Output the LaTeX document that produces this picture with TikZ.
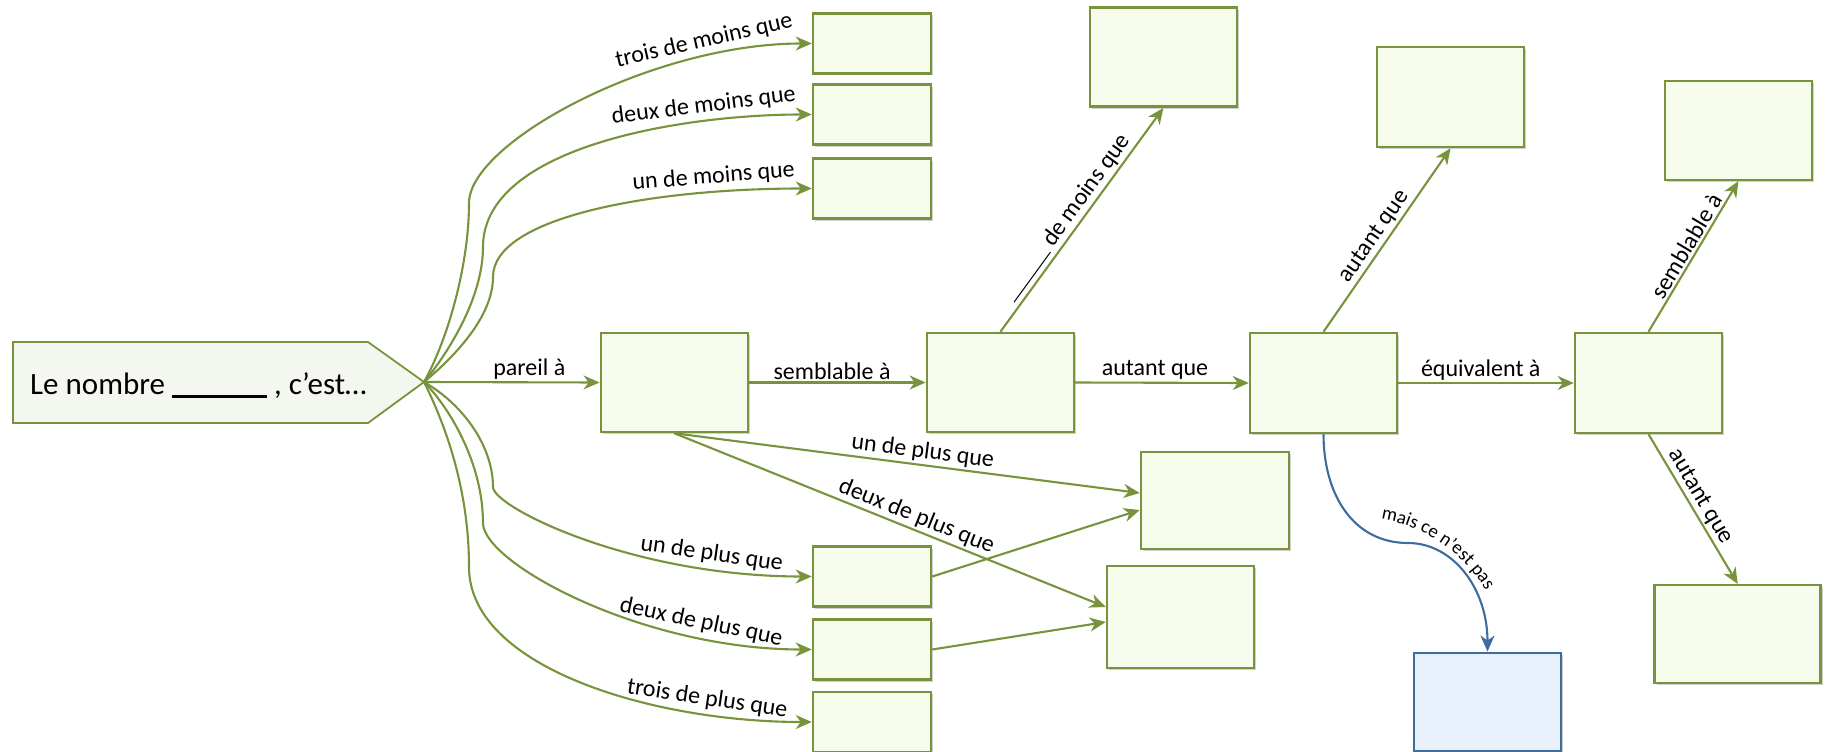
\documentclass[tikz,border=0pt]{standalone}
\usepackage{fontspec}
\setmainfont{Carlito}
\usetikzlibrary{arrows.meta,shadows,calc,decorations.text}
\definecolor{grn}{HTML}{77933C}
\definecolor{boxfill}{HTML}{F7FBEC}
\definecolor{startfill}{HTML}{F4F7EF}
\definecolor{blu}{HTML}{3E6C9E}
\definecolor{bluefill}{HTML}{E8F1FB}
\begin{document}
\begin{tikzpicture}[x=1pt,y=-1pt,
  box/.style={draw=grn, fill=boxfill, line width=2.5pt, inner sep=0pt,
    drop shadow={shadow xshift=2pt,shadow yshift=-2pt,fill=black!30,opacity=0.6}},
  bbox/.style={box, draw=blu, fill=bluefill},
  conn/.style={draw=grn, line width=2.1pt, -{Stealth[length=16pt,width=14pt,inset=5pt]}},
  bconn/.style={conn, draw=blu},
  lbl/.style={font=\fontsize{24}{28}\selectfont, text=black, inner sep=2pt},
]
\useasboundingbox (0,0) rectangle (1831,752);

% start shape
\draw[draw=grn, fill=startfill, line width=1.8pt] (13,342) -- (368,342) -- (424,382) -- (368,423) -- (13,423) -- cycle;
\coordinate (tip) at (424,382);
\node[anchor=base west, font=\fontsize{31}{36}\selectfont, inner sep=0pt] (start) at (30,394)
  {Le nombre \rule[-4pt]{95pt}{2.8pt} , c’est…};

% boxes
\node[box, minimum width=118pt, minimum height=60pt] (T3) at (872,43.5) {};
\node[box, minimum width=118pt, minimum height=60pt] (T2) at (872,114.5) {};
\node[box, minimum width=118pt, minimum height=60pt] (T1) at (872,188.5) {};
\node[box, minimum width=118pt, minimum height=60pt] (B1) at (872,576.5) {};
\node[box, minimum width=118pt, minimum height=60pt] (B2) at (872,649.5) {};
\node[box, minimum width=118pt, minimum height=60pt] (B3) at (872,722) {};
\node[box, minimum width=147pt, minimum height=99pt] (P) at (674.3,382.5) {};
\node[box, minimum width=147pt, minimum height=99pt] (S) at (1000.4,382.5) {};
\node[box, minimum width=147pt, minimum height=100pt] (C) at (1323.5,383) {};
\node[box, minimum width=147pt, minimum height=100pt] (E) at (1648.5,383) {};
\node[box, minimum width=147pt, minimum height=99pt] (M) at (1163.4,57.2) {};
\node[box, minimum width=147pt, minimum height=100pt] (A) at (1450.5,97) {};
\node[box, minimum width=147pt, minimum height=99pt] (F) at (1738.4,130.4) {};
\node[box, minimum width=166pt, minimum height=98pt] (G) at (1737.7,634.2) {};
\node[box, minimum width=148pt, minimum height=97pt] (R1) at (1215,500.5) {};
\node[box, minimum width=147pt, minimum height=102pt] (R2) at (1180.5,617) {};
\node[bbox, minimum width=147pt, minimum height=98pt] (H) at (1487.5,701.8) {};

% fan upward
\draw[conn] (tip) .. controls +(25,-45) and +(0,60) .. (469,203)
  .. controls +(0,-60) and +(-160,0) .. (T3.west)
  node[lbl,sloped,above=2pt,pos=0.785] {trois de moins que};
\draw[conn] (tip) .. controls +(25,-30) and +(0,50) .. (483,247)
  .. controls +(0,-100) and +(-130,0) .. (T2.west)
  node[lbl,sloped,above=2pt,pos=0.75] {deux de moins que};
\draw[conn] (tip) .. controls +(30,-25) and +(0,40) .. (493,277)
  .. controls +(0,-60) and +(-160,0) .. (T1.west)
  node[lbl,sloped,above=2pt,pos=0.795] {un de moins que};
% fan downward
\draw[conn] (tip) .. controls +(40,23) and +(0,-40) .. (493,487)
  .. controls +(0,20) and +(-180,0) .. (B1.west)
  node[lbl,sloped,above=2pt,pos=0.80] {un de plus que};
\draw[conn] (tip) .. controls +(25,25) and +(0,-60) .. (483,523)
  .. controls +(0,40) and +(-170,0) .. (B2.west)
  node[lbl,sloped,above=2pt,pos=0.77] {deux de plus que};
\draw[conn] (tip) .. controls +(20,40) and +(0,-80) .. (469,567)
  .. controls +(0,100) and +(-160,0) .. (B3.west)
  node[lbl,sloped,above=2pt,pos=0.78] {trois de plus que};

% main row
\draw[conn] (tip) -- node[lbl,above,pos=0.6] {pareil à} (P.west);
\draw[conn] (P.east) -- node[lbl,above,pos=0.47] {semblable à} (S.west);
\draw[conn] (S.east) -- node[lbl,above,pos=0.46] {autant que} (C.west);
\draw[conn] (C.east) -- node[lbl,above,pos=0.47] {équivalent à} (E.west);

% diagonals up
\draw[conn] (S.north) -- node[lbl,sloped,above,pos=0.475] {\rule[-1pt]{62pt}{1pt}\ de moins que} (M.south);
\draw[conn] (C.north) -- node[lbl,sloped,above,pos=0.48] {autant que} (A.south);
\draw[conn] (E.north) -- node[lbl,sloped,above,pos=0.53] {semblable à} (F.south);
\draw[conn] (E.south) -- node[lbl,sloped,above,pos=0.46] {autant que} (G.north);

% from P down
\draw[conn] (P.south) -- node[lbl,sloped,above,pos=0.53] {un de plus que} ($(R1.west)+(0,-7.5)$);
\draw[conn] (P.south) -- node[lbl,sloped,above,pos=0.55] {deux de plus que} ($(R2.west)+(0,-10)$);
\draw[conn] (B1.east) -- ($(R1.west)+(0,9.5)$);
\draw[conn] (B2.east) -- ($(R2.west)+(0,5)$);

% blue
\draw[bconn] (C.south) .. controls +(0,60) and +(-55,0) .. (1408,543)
  .. controls +(45,0) and +(0,-63) .. (H.north);
\path[decorate, decoration={text along path, text align=left,
  text={|\fontsize{19}{19}\selectfont|mais ce n’est pas}}]
  (1381,519) .. controls (1430,527) and (1475,560) .. (1497,612);
\end{tikzpicture}
\end{document}
